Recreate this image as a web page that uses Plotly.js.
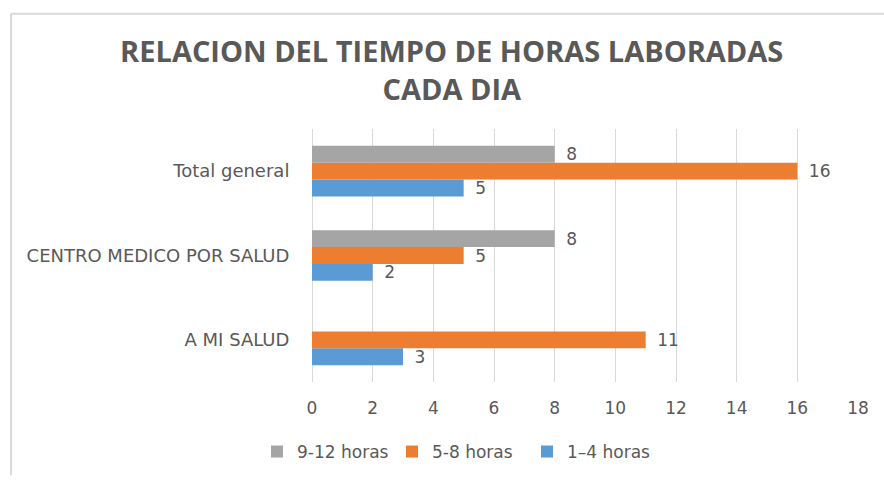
<!DOCTYPE html>
<html>
<head>
<meta charset="utf-8">
<script src="https://cdn.plot.ly/plotly-3.0.1.min.js"></script>
<style>html,body{margin:0;padding:0;background:#fff;}#chart{width:884px;height:482px;}</style>
</head>
<body>
<div id="chart"></div>
<script>
var categories = ['A MI SALUD', 'CENTRO MEDICO POR SALUD', 'Total general'];
var series1to4 = [3, 2, 5];
var series5to8 = [11, 5, 16];
var series9to12 = [null, 8, 8];
var seriesNames = ['1\u20134 horas', '5-8 horas', '9-12 horas'];
var seriesColors = ['#5B9BD5', '#ED7D31', '#A5A5A5'];
var xTicks = [0, 2, 4, 6, 8, 10, 12, 14, 16, 18];

var txtColor = '#595959';
var fontFam = 'DejaVu Sans, Open Sans, sans-serif';
var titleFam = 'Open Sans, DejaVu Sans, sans-serif';

function mk(vals, i) {
  return {
    type: 'bar', orientation: 'h',
    y: categories, x: vals, name: seriesNames[i],
    marker: {color: seriesColors[i]},
    text: vals.map(function(v){ return v === null ? '' : '\u2002' + v; }),
    textposition: 'outside', cliponaxis: false, constraintext: 'none',
    textfont: {color: txtColor, size: 17, family: fontFam},
    hoverinfo: 'skip'
  };
}
var data = [mk(series1to4, 0), mk(series5to8, 1), mk(series9to12, 2)];

var L = 312, R = 26, T = 129, B = 95;
var pw = 884 - L - R, ph = 482 - T - B;

var layout = {
  width: 884, height: 482,
  margin: {l: L, r: R, t: T, b: B},
  paper_bgcolor: '#fff', plot_bgcolor: '#fff',
  font: {family: fontFam, color: txtColor},
  title: {
    text: '<b>RELACION DEL TIEMPO DE HORAS LABORADAS<br>CADA DIA</b>',
    font: {size: 29, color: txtColor, family: titleFam},
    x: 0.511, xanchor: 'center', xref: 'container',
    y: 1 - 62/482, yanchor: 'top', yref: 'container'
  },
  barmode: 'group', bargap: 0.4, bargroupgap: 0,
  xaxis: {
    range: [0, 18], tickvals: xTicks, ticktext: xTicks.map(String),
    showgrid: true, gridcolor: '#d9d9d9', gridwidth: 1,
    zeroline: true, zerolinecolor: '#d9d9d9', zerolinewidth: 1,
    showline: false, ticks: 'outside', ticklen: 11, tickcolor: 'rgba(0,0,0,0)',
    tickfont: {size: 17, color: txtColor, family: fontFam},
    fixedrange: true
  },
  yaxis: {
    type: 'category', categoryorder: 'array', categoryarray: categories,
    showgrid: false, zeroline: false, showline: false,
    ticks: 'outside', ticklen: 18, tickcolor: 'rgba(0,0,0,0)',
    tickfont: {size: 18, color: txtColor, family: fontFam},
    fixedrange: true
  },
  showlegend: true,
  legend: {
    orientation: 'h', traceorder: 'reversed',
    x: (257 - L) / pw, xanchor: 'left',
    y: (387 - 440) / ph, yanchor: 'top',
    entrywidth: 90, entrywidthmode: 'pixels',
    font: {size: 17, color: txtColor, family: fontFam},
    bgcolor: 'rgba(0,0,0,0)'
  },
  shapes: [
    {type: 'line', xref: 'paper', yref: 'paper',
     x0: (11 - L) / pw, x1: (11 - L) / pw, y0: (387 - 482) / ph, y1: (387 - 11.5) / ph,
     line: {color: '#d9d9d9', width: 2}},
    {type: 'line', xref: 'paper', yref: 'paper',
     x0: (11 - L) / pw, x1: (884 - L) / pw, y0: (387 - 11.5) / ph, y1: (387 - 11.5) / ph,
     line: {color: '#d9d9d9', width: 2}}
  ]
};

Plotly.newPlot('chart', data, layout, {displayModeBar: false, staticPlot: true});
</script>
</body>
</html>
